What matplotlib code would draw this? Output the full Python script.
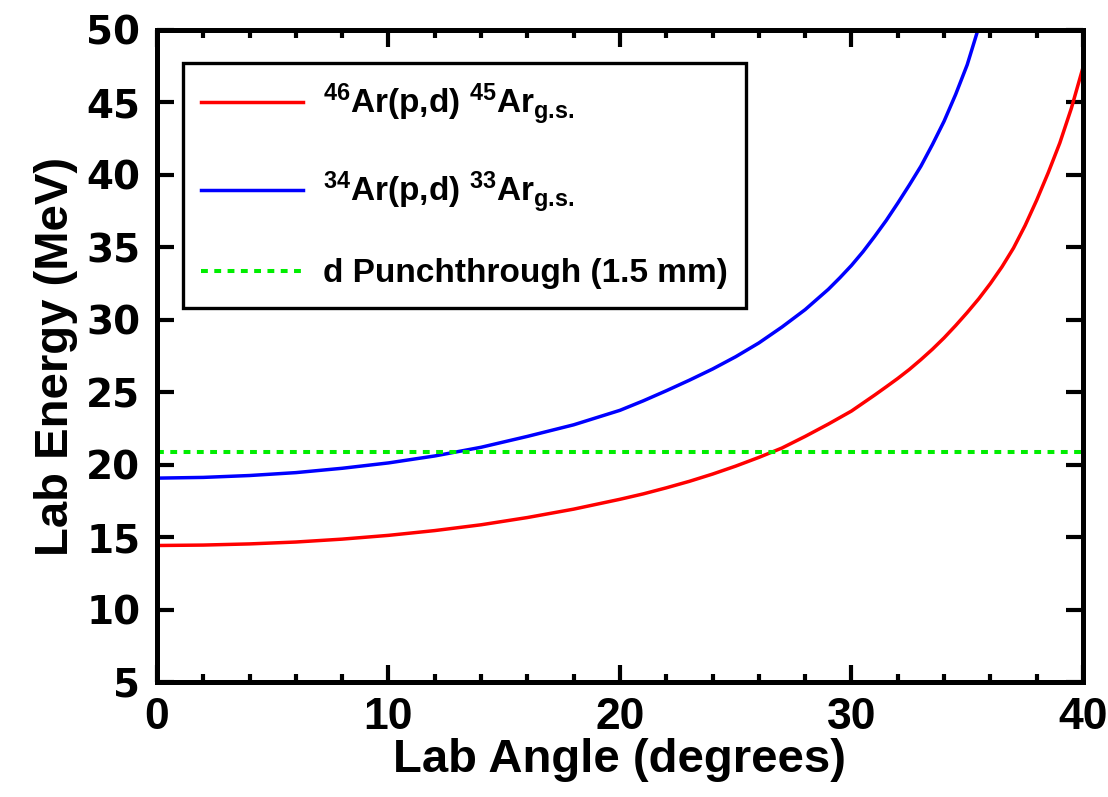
import matplotlib
matplotlib.use("Agg")
import matplotlib.pyplot as plt
from matplotlib.ticker import MultipleLocator

# ---- data ----
angle_ar46 = [0, 2, 4, 6, 8, 10, 12, 14, 16, 18, 20, 21, 22, 23, 24, 25, 26, 27,
              28, 29, 30, 31, 31.5, 32, 32.5, 33, 33.5, 34, 34.5, 35, 35.5, 36,
              36.5, 37, 37.5, 38, 38.5, 39, 39.5, 40]
energy_ar46 = [14.42, 14.45, 14.53, 14.66, 14.86, 15.12, 15.45, 15.85, 16.35, 16.93,
               17.61, 17.98, 18.40, 18.85, 19.35, 19.90, 20.50, 21.15,
               21.95, 22.8, 23.7, 24.8, 25.37, 25.95, 26.57, 27.25, 27.97, 28.75,
               29.6, 30.5, 31.45, 32.5, 33.65, 34.95, 36.5, 38.25, 40.15, 42.2,
               44.6, 47.4]

angle_ar34 = [0, 2, 4, 6, 8, 10, 12, 14, 16, 18, 20, 21, 22, 23, 24, 25, 26, 27,
              28, 28.5, 29, 29.5, 30, 30.5, 31, 31.5, 32, 32.5, 33, 33.5, 34, 34.5,
              35, 35.5, 36]
energy_ar34 = [19.07, 19.12, 19.25, 19.45, 19.75, 20.12, 20.6, 21.2, 21.95, 22.75,
               23.75, 24.4, 25.1, 25.83, 26.6, 27.45, 28.4, 29.5,
               30.7, 31.4, 32.1, 32.9, 33.75, 34.7, 35.75, 36.85, 38.05, 39.3,
               40.6, 42.1, 43.7, 45.55, 47.6, 50.2, 52.8]

punch_angle = [0, 40]
punch_energy = [20.9, 20.9]

labels = [r"$^{46}$Ar(p,d) $^{45}$Ar$_{\mathrm{g.\!s.}}$",
          r"$^{34}$Ar(p,d) $^{33}$Ar$_{\mathrm{g.\!s.}}$",
          "d Punchthrough (1.5 mm)"]
x_ticks = [0, 10, 20, 30, 40]
y_ticks = [5, 10, 15, 20, 25, 30, 35, 40, 45, 50]

plt.rcParams["mathtext.fontset"] = "custom"
plt.rcParams["mathtext.rm"] = "Liberation Sans:bold"
plt.rcParams["mathtext.it"] = "Liberation Sans:bold"
plt.rcParams["mathtext.bf"] = "Liberation Sans:bold"
plt.rcParams["font.family"] = ["Liberation Sans", "DejaVu Sans"]
plt.rcParams["font.weight"] = "bold"

fig = plt.figure(figsize=(11.08, 7.97), dpi=100)
ax = fig.add_axes([0.1417, 0.1443, 0.8357, 0.8181])

ax.plot(angle_ar46, energy_ar46, color="#ff0000", lw=2.5, label=labels[0],
        solid_joinstyle="round")
ax.plot(angle_ar34, energy_ar34, color="#0000ff", lw=2.5, label=labels[1],
        solid_joinstyle="round")
ax.plot(punch_angle, punch_energy, color="#00ee00", lw=2.9, dashes=(1.7, 1.6),
        label=labels[2])

ax.set_xlim(0, 40)
ax.set_ylim(5, 50)
ax.set_xticks(x_ticks)
ax.set_yticks(y_ticks)
ax.xaxis.set_minor_locator(MultipleLocator(2))

for s in ax.spines.values():
    s.set_linewidth(3.6)

ax.tick_params(axis="both", which="major", direction="in", length=12, width=3,
               top=True, right=True)
ax.tick_params(axis="x", which="minor", direction="in", length=6, width=3,
               top=True, bottom=True)
ax.tick_params(axis="x", which="major", pad=11)
ax.tick_params(axis="y", which="major", pad=12)

for t in ax.get_xticklabels():
    t.set_fontfamily("Liberation Sans")
    t.set_fontweight("bold")
    t.set_fontsize(32)
for t in ax.get_yticklabels():
    t.set_fontfamily("DejaVu Sans")
    t.set_fontweight("bold")
    t.set_fontsize(28)

ax.set_xlabel("Lab Angle (degrees)", fontsize=34, fontweight="bold", labelpad=0)
ax.set_ylabel("Lab Energy (MeV)", fontsize=34, fontweight="bold", labelpad=6)

leg = ax.legend(loc="upper left", bbox_to_anchor=(0.028, 0.949), borderaxespad=0,
                fancybox=False, framealpha=1, edgecolor="black",
                prop={"family": "Liberation Sans", "weight": "bold", "size": 24},
                handlelength=3.05, handletextpad=0.6, borderpad=0.55,
                labelspacing=1.3)
leg.get_frame().set_linewidth(2.4)

fig.savefig("out.png", dpi=100)
